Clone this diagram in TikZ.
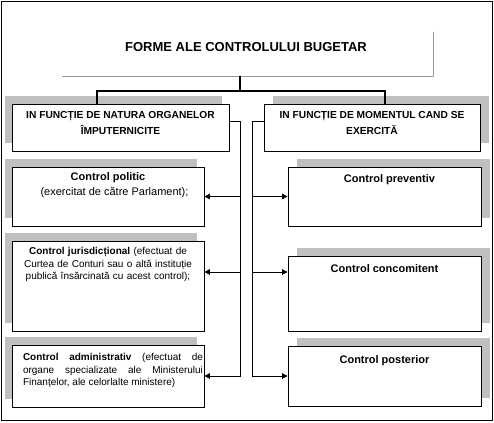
\documentclass[tikz,border=0pt]{standalone}
\usepackage{fontspec}
\setmainfont{Liberation Sans}
\usetikzlibrary{arrows.meta,shadows}
\definecolor{umbra}{gray}{0.75}
\definecolor{rim}{gray}{0.6}

\begin{document}
\begin{tikzpicture}[x=1pt,y=1pt,line width=0.8pt,>={Triangle[length=5.5pt,width=5.5pt]},
  trunk/.style={line width=2.4pt},
  box/.style={draw,fill=white,inner sep=0pt},
  leftbox/.style={box,drop shadow={shadow xshift=-7pt,shadow yshift=8pt,fill=umbra,opacity=1}},
  rightbox/.style={box,drop shadow={shadow xshift=9pt,shadow yshift=8pt,fill=umbra,opacity=1}},
  hdtext/.style={anchor=north,inner sep=0pt,align=center,font=\bfseries\fontsize{10.2}{16}\selectfont},
  captext/.style={anchor=north,inner sep=0pt,font=\bfseries\fontsize{11}{13}\selectfont},
  intext/.style={anchor=north,inner sep=0pt,font=\fontsize{10}{12.5}\selectfont}]
  \useasboundingbox (0,0) rectangle (494,422);
  % chenar exterior
  \draw[line width=1pt] (1.5,1.5) rectangle (492.5,420.5);
  % titlu
  \node[font=\bfseries\fontsize{13}{15}\selectfont] (title) at (246,375) {FORME ALE CONTROLULUI BUGETAR};
  \coordinate (titleNE) at (433,390);
  \coordinate (titleSW) at (62,346);
  \draw[rim] (titleNE) |- (titleSW);
  % criterii
  \node[leftbox,minimum width=217,minimum height=47] (hdrL) at (120.5,294.5) {};
  \node[rightbox,minimum width=216,minimum height=47] (hdrR) at (372,294.5) {};
  \node[hdtext] (hdrLt) at ([yshift=-7.5pt]hdrL.north) {IN FUNCȚIE DE NATURA ORGANELOR\\ÎMPUTERNICITE};
  \node[hdtext] (hdrRt) at ([yshift=-7.5pt]hdrR.north) {IN FUNCȚIE DE MOMENTUL CAND SE\\EXERCITĂ};
  \coordinate (fork) at (240,346);
  \coordinate (forkL) at (97,331);
  \coordinate (forkR) at (385,331);
  \draw[trunk] (fork) |- (forkL) -- (forkL |- hdrL.north);
  \draw[trunk] (fork) |- (forkR) -- (forkR |- hdrR.north);
  % dupa natura organelor
  \node[leftbox,minimum width=192,minimum height=59] (polit) at (108,225.5) {};
  \node[leftbox,minimum width=192,minimum height=90] (jurid) at (108,136) {};
  \node[leftbox,minimum width=192,minimum height=62] (admin) at (108,46) {};
  \node[captext] (politT) at ([yshift=-5.5pt]polit.north) {Control politic};
  \node[intext,font=\fontsize{11}{13}\selectfont] (politS) at ([xshift=6.5pt,yshift=-4pt]politT.south) {(exercitat de către Parlament);};
  \node[intext,text width=180,align=center] (juridT) at ([yshift=-6.5pt]jurid.north)
    {\textbf{Control jurisdicțional} (efectuat de\\Curtea de Conturi sau o altă instituție\\publică însărcinată cu acest control);};
  \node[intext,anchor=north west,text width=180,align=justify] (adminT) at ([xshift=11pt,yshift=-8.5pt]admin.north west)
    {\textbf{Control administrativ} (efectuat de\linebreak organe specializate ale Ministerului\linebreak Finanțelor, ale celorlalte ministere)};
  % dupa momentul exercitarii
  \node[rightbox,minimum width=193,minimum height=59] (prev) at (384.5,225.5) {};
  \node[rightbox,minimum width=193,minimum height=75] (conc) at (384.5,128.5) {};
  \node[rightbox,minimum width=193,minimum height=60] (post) at (384.5,46) {};
  \node[captext] (prevT) at ([xshift=5pt,yshift=-8pt]prev.north) {Control preventiv};
  \node[captext] (concT) at ([yshift=-8.3pt]conc.north) {Control concomitent};
  \node[captext] (postT) at ([yshift=-10pt]post.north) {Control posterior};
  % legaturi
  \coordinate (busL) at (240.5,301);
  \coordinate (busR) at (252,301);
  \coordinate (rowB) at (0,150);
  \draw[->] (hdrL.east |- busL) -| (busL |- admin.east) -- (admin.east);
  \draw[->] (busL |- polit.east) -- (polit.east);
  \draw[->] (busL |- rowB) -- (jurid.east |- rowB);
  \draw[->] (hdrR.west |- busR) -| (busR |- post.west) -- (post.west);
  \draw[->] (busR |- prev.west) -- (prev.west);
  \draw[->] (busR |- rowB) -- (conc.west |- rowB);
\end{tikzpicture}
\end{document}
